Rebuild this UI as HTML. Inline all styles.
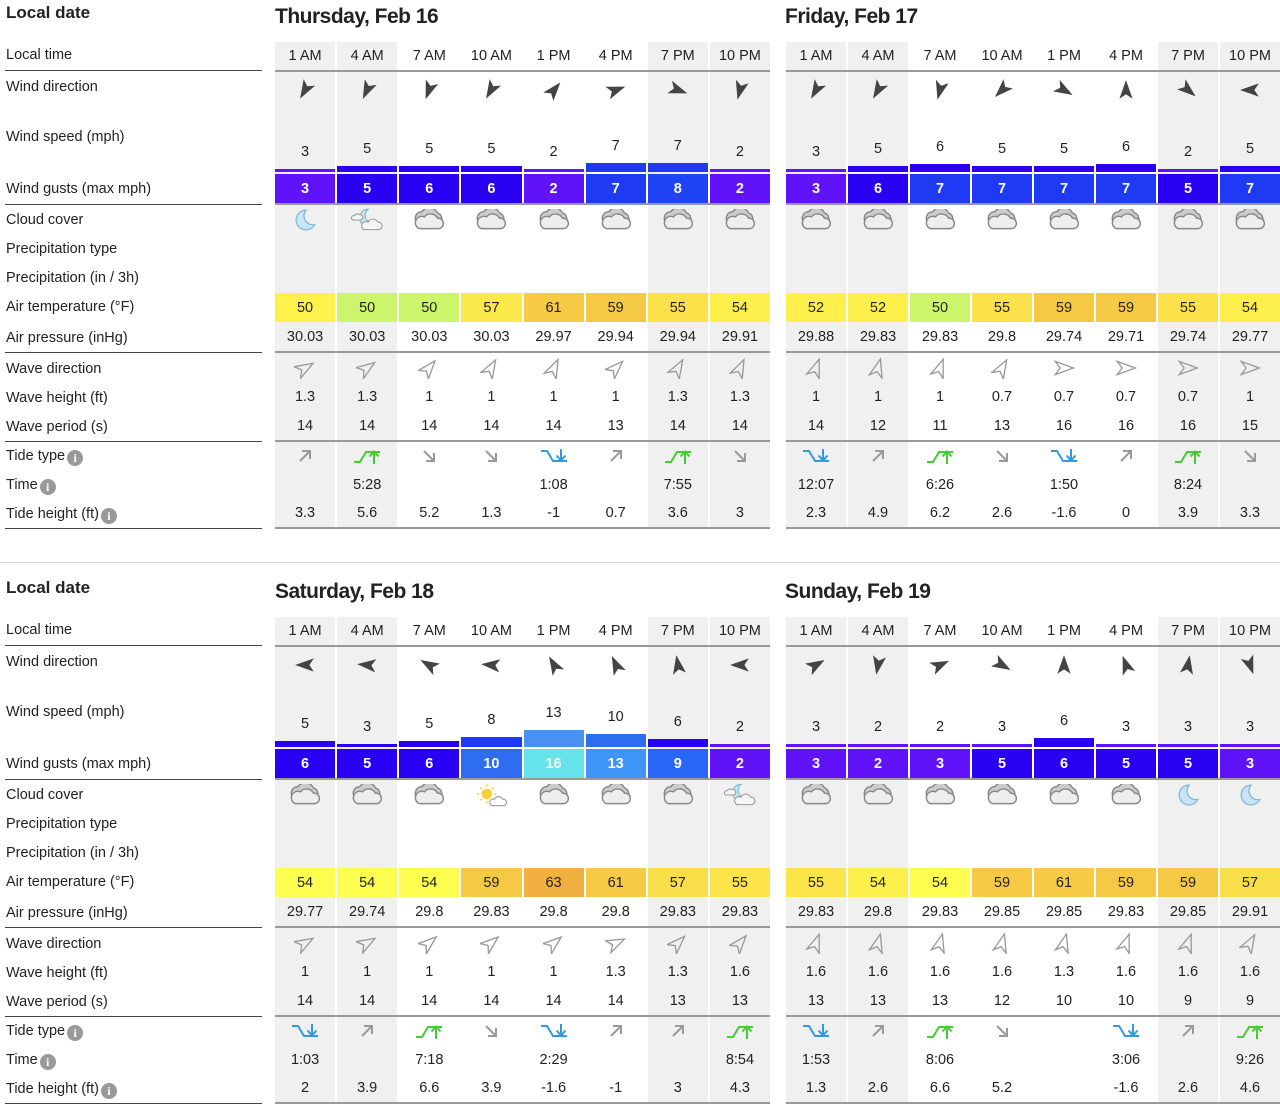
<!DOCTYPE html>
<html><head><meta charset="utf-8">
<style>
*{box-sizing:border-box}
body{margin:0;width:1280px;height:1113px;background:#fff;font-family:"Liberation Sans",Arial,sans-serif;color:#222;position:relative;overflow:hidden}
.blk{position:absolute;left:0;width:1280px;height:540px}
.ld{position:absolute;left:6px;top:3px;font-weight:bold;font-size:17px}
.tt{position:absolute;top:5px;font-weight:bold;font-size:21px;letter-spacing:-0.5px}
.lb{position:absolute;left:6px;font-size:14.5px;line-height:18px;white-space:nowrap}
.ln{position:absolute;left:5px;width:257px;height:1px;background:#444}
.g{position:absolute;top:42px}
.r{display:flex}
.r>span{flex:1;display:flex;align-items:center;justify-content:center;border-right:2px solid #fff;font-size:14.5px}
.r>span:last-child{border-right:none}
.r>span:nth-child(-n+2),.r>span:nth-child(n+7){background:#f0f0f0}
.hl{height:2px;background:#999}
.dir>span{align-items:flex-start;padding-top:7px}
.sp>span{flex-direction:column;justify-content:flex-end;align-items:stretch}
.sp em{font-style:normal;text-align:center;line-height:16px;margin-bottom:9px}
.sp i{display:block;margin-bottom:2px}
.gu>span{color:#fff;font-weight:bold;font-size:14.5px}
.inf{display:inline-block;width:16px;height:16px;border-radius:50%;background:#999;color:#fff;font:bold 12px "Liberation Serif",serif;text-align:center;line-height:16px;vertical-align:-2px;margin-left:2px}
</style></head><body>
<svg width="0" height="0" style="position:absolute">
<defs>
<symbol id="cl" viewBox="3 3 23 16"><path d="M5 13 A5 5 0 0 1 9 5 A7 7 0 0 1 21 6 A5 5 0 0 1 22 15 Z" fill="#ccc" stroke="#888" stroke-width="1.1"/><path d="M7 18H22A4 4 0 0 0 21 10A6 6 0 0 0 11 9A4.5 4.5 0 0 0 7 18Z" fill="#eee" stroke="#888" stroke-width="1.1"/></symbol>
<symbol id="mo" viewBox="1 1 20 20"><path d="M12 2A9 9 0 1 0 20 15A8 8 0 0 1 12 2Z" fill="#c9e4f4" stroke="#7fb6d6" stroke-width="1.1"/></symbol>
<symbol id="mc" viewBox="0 0 30 22"><path d="M16 1A8 8 0 1 0 23 13A7 7 0 0 1 16 1Z" fill="#c9e4f4" stroke="#7fb6d6" stroke-width="1"/><path d="M12 20H26A3.5 3.5 0 0 0 25 13A5 5 0 0 0 16 13A3.5 3.5 0 0 0 12 20Z" fill="#f6f6f6" stroke="#999"/><path d="M2 11H9A2.5 2.5 0 0 0 8 6A3.5 3.5 0 0 0 3 7A2 2 0 0 0 2 11Z" fill="#f6f6f6" stroke="#999"/></symbol>
<symbol id="sc" viewBox="0 0 30 22"><circle cx="11" cy="10" r="5" fill="#f7cf3c"/><g stroke="#f7cf3c" stroke-width="1.5"><path d="M11 1V3M11 17V19M2 10H4M18 10H20M5 4L6.5 5.5M15.5 14.5L17 16M17 4L15.5 5.5M5 16L6.5 14.5"/></g><path d="M16 21H27A3 3 0 0 0 26 15A4.5 4.5 0 0 0 18 15A3 3 0 0 0 16 21Z" fill="#fff" stroke="#999"/></symbol>
<symbol id="hi" viewBox="0 0 30 18"><g stroke="#44cc33" stroke-width="2" fill="none"><path d="M2 15H8L14 5H28"/><path d="M22 17V5M17.5 9.5L22 4.5L26.5 9.5"/></g></symbol>
<symbol id="lo" viewBox="0 0 30 18"><g stroke="#3399dd" stroke-width="2" fill="none"><path d="M2 4H8L14 14H28"/><path d="M22 2V13M17.5 8.5L22 13.5L26.5 8.5"/></g></symbol>
<symbol id="ua" viewBox="0 0 16 16"><g stroke="#999" stroke-width="2" fill="none"><path d="M3 13L13 3M5 3H13V11"/></g></symbol>
<symbol id="da" viewBox="0 0 16 16"><g stroke="#999" stroke-width="2" fill="none"><path d="M3 3L13 13M5 13H13V5"/></g></symbol>
<symbol id="wa" viewBox="-10 -10 20 20"><path d="M0-9L6 8L0 4L-6 8Z" fill="#444"/></symbol>
<symbol id="wv" viewBox="-10 -10 20 20"><path d="M0-8.5L6 8L0 3.5L-6 8Z" fill="none" stroke="#999" stroke-width="1.2"/></symbol>
</defs></svg>

<!-- ============ BLOCK 1 ============ -->
<div class="blk" style="top:0">
<div class="ld">Local date</div>
<div class="tt" style="left:275px">Thursday, Feb 16</div>
<div class="tt" style="left:785px">Friday, Feb 17</div>
<div class="lb" style="top:46px">Local time</div><div class="ln" style="top:70px"></div>
<div class="lb" style="top:78px">Wind direction</div>
<div class="lb" style="top:128px">Wind speed (mph)</div>
<div class="lb" style="top:180px">Wind gusts (max mph)</div><div class="ln" style="top:204px"></div>
<div class="lb" style="top:211px">Cloud cover</div>
<div class="lb" style="top:240px">Precipitation type</div>
<div class="lb" style="top:269px">Precipitation (in / 3h)</div>
<div class="lb" style="top:298px">Air temperature (°F)</div>
<div class="lb" style="top:329px">Air pressure (inHg)</div><div class="ln" style="top:352px"></div>
<div class="lb" style="top:360px">Wave direction</div>
<div class="lb" style="top:389px">Wave height (ft)</div>
<div class="lb" style="top:418px">Wave period (s)</div><div class="ln" style="top:441px"></div>
<div class="lb" style="top:447px">Tide type<span class="inf">i</span></div>
<div class="lb" style="top:476px">Time<span class="inf">i</span></div>
<div class="lb" style="top:505px">Tide height (ft)<span class="inf">i</span></div><div class="ln" style="top:528px"></div>

<div class="g" style="left:275px;width:495px">
<div class="r" style="height:28px"><span>1 AM</span><span>4 AM</span><span>7 AM</span><span>10 AM</span><span>1 PM</span><span>4 PM</span><span>7 PM</span><span>10 PM</span></div><div class="hl"></div>
<div class="r dir" style="height:36px">
<span><svg width="22" height="22"><use href="#wa" transform="rotate(210 11 11)"/></svg></span>
<span><svg width="22" height="22"><use href="#wa" transform="rotate(205 11 11)"/></svg></span>
<span><svg width="22" height="22"><use href="#wa" transform="rotate(200 11 11)"/></svg></span>
<span><svg width="22" height="22"><use href="#wa" transform="rotate(210 11 11)"/></svg></span>
<span><svg width="22" height="22"><use href="#wa" transform="rotate(40 11 11)"/></svg></span>
<span><svg width="22" height="22"><use href="#wa" transform="rotate(70 11 11)"/></svg></span>
<span><svg width="22" height="22"><use href="#wa" transform="rotate(110 11 11)"/></svg></span>
<span><svg width="22" height="22"><use href="#wa" transform="rotate(195 11 11)"/></svg></span></div>
<div class="r sp" style="height:66px">
<span><em>3</em><i style="height:3px;background:#6012f8"></i></span>
<span><em>5</em><i style="height:6px;background:#2a00f2"></i></span>
<span><em>5</em><i style="height:6px;background:#2a00f2"></i></span>
<span><em>5</em><i style="height:6px;background:#2a00f2"></i></span>
<span><em>2</em><i style="height:3px;background:#6012f8"></i></span>
<span><em>7</em><i style="height:9px;background:#1f3af5"></i></span>
<span><em>7</em><i style="height:9px;background:#1f3af5"></i></span>
<span><em>2</em><i style="height:3px;background:#6012f8"></i></span></div>
<div class="r gu" style="height:29px"><span style="background:#6012f8">3</span><span style="background:#2a00f2">5</span><span style="background:#2a00f2">6</span><span style="background:#2a00f2">6</span><span style="background:#6012f8">2</span><span style="background:#1f3af5">7</span><span style="background:#1f44f5">8</span><span style="background:#6012f8">2</span></div><div class="hl"></div>
<div class="r" style="height:29px">
<span><svg width="22" height="22"><use href="#mo"/></svg></span>
<span><svg width="32" height="24"><use href="#mc"/></svg></span>
<span><svg width="30" height="21"><use href="#cl"/></svg></span><span><svg width="30" height="21"><use href="#cl"/></svg></span><span><svg width="30" height="21"><use href="#cl"/></svg></span><span><svg width="30" height="21"><use href="#cl"/></svg></span><span><svg width="30" height="21"><use href="#cl"/></svg></span><span><svg width="30" height="21"><use href="#cl"/></svg></span></div>
<div class="r" style="height:29px"><span></span><span></span><span></span><span></span><span></span><span></span><span></span><span></span></div>
<div class="r" style="height:30px"><span></span><span></span><span></span><span></span><span></span><span></span><span></span><span></span></div>
<div class="r" style="height:29px"><span style="background:#fdf24c">50</span><span style="background:#ccf56c">50</span><span style="background:#ccf56c">50</span><span style="background:#fbe84a">57</span><span style="background:#f6ca44">61</span><span style="background:#f6c944">59</span><span style="background:#fce14a">55</span><span style="background:#fdf04c">54</span></div>
<div class="r" style="height:29px"><span>30.03</span><span>30.03</span><span>30.03</span><span>30.03</span><span>29.97</span><span>29.94</span><span>29.94</span><span>29.91</span></div><div class="hl"></div>
<div class="r" style="height:30px">
<span><svg width="22" height="22"><use href="#wv" transform="rotate(60 11 11)"/></svg></span>
<span><svg width="22" height="22"><use href="#wv" transform="rotate(55 11 11)"/></svg></span>
<span><svg width="22" height="22"><use href="#wv" transform="rotate(40 11 11)"/></svg></span>
<span><svg width="22" height="22"><use href="#wv" transform="rotate(30 11 11)"/></svg></span>
<span><svg width="22" height="22"><use href="#wv" transform="rotate(25 11 11)"/></svg></span>
<span><svg width="22" height="22"><use href="#wv" transform="rotate(45 11 11)"/></svg></span>
<span><svg width="22" height="22"><use href="#wv" transform="rotate(30 11 11)"/></svg></span>
<span><svg width="22" height="22"><use href="#wv" transform="rotate(25 11 11)"/></svg></span></div>
<div class="r" style="height:28px"><span>1.3</span><span>1.3</span><span>1</span><span>1</span><span>1</span><span>1</span><span>1.3</span><span>1.3</span></div>
<div class="r" style="height:29px"><span>14</span><span>14</span><span>14</span><span>14</span><span>14</span><span>13</span><span>14</span><span>14</span></div><div class="hl"></div>
<div class="r" style="height:28px"><span><svg width="16" height="16"><use href="#ua"/></svg></span><span><svg width="30" height="18"><use href="#hi"/></svg></span><span><svg width="16" height="16"><use href="#da"/></svg></span><span><svg width="16" height="16"><use href="#da"/></svg></span><span><svg width="30" height="18"><use href="#lo"/></svg></span><span><svg width="16" height="16"><use href="#ua"/></svg></span><span><svg width="30" height="18"><use href="#hi"/></svg></span><span><svg width="16" height="16"><use href="#da"/></svg></span></div>
<div class="r" style="height:29px"><span></span><span>5:28</span><span></span><span></span><span>1:08</span><span></span><span>7:55</span><span></span></div>
<div class="r" style="height:28px"><span>3.3</span><span>5.6</span><span>5.2</span><span>1.3</span><span>-1</span><span>0.7</span><span>3.6</span><span>3</span></div><div class="hl"></div>
</div>

<div class="g" style="left:786px;width:494px">
<div class="r" style="height:28px"><span>1 AM</span><span>4 AM</span><span>7 AM</span><span>10 AM</span><span>1 PM</span><span>4 PM</span><span>7 PM</span><span>10 PM</span></div><div class="hl"></div>
<div class="r dir" style="height:36px">
<span><svg width="22" height="22"><use href="#wa" transform="rotate(210 11 11)"/></svg></span>
<span><svg width="22" height="22"><use href="#wa" transform="rotate(210 11 11)"/></svg></span>
<span><svg width="22" height="22"><use href="#wa" transform="rotate(195 11 11)"/></svg></span>
<span><svg width="22" height="22"><use href="#wa" transform="rotate(225 11 11)"/></svg></span>
<span><svg width="22" height="22"><use href="#wa" transform="rotate(120 11 11)"/></svg></span>
<span><svg width="22" height="22"><use href="#wa" transform="rotate(0 11 11)"/></svg></span>
<span><svg width="22" height="22"><use href="#wa" transform="rotate(130 11 11)"/></svg></span>
<span><svg width="22" height="22"><use href="#wa" transform="rotate(270 11 11)"/></svg></span></div>
<div class="r sp" style="height:66px">
<span><em>3</em><i style="height:3px;background:#6012f8"></i></span>
<span><em>5</em><i style="height:6px;background:#2a00f2"></i></span>
<span><em>6</em><i style="height:8px;background:#2a00f2"></i></span>
<span><em>5</em><i style="height:6px;background:#2a00f2"></i></span>
<span><em>5</em><i style="height:6px;background:#2a00f2"></i></span>
<span><em>6</em><i style="height:8px;background:#2a00f2"></i></span>
<span><em>2</em><i style="height:3px;background:#6012f8"></i></span>
<span><em>5</em><i style="height:6px;background:#2a00f2"></i></span></div>
<div class="r gu" style="height:29px"><span style="background:#6012f8">3</span><span style="background:#2a00f2">6</span><span style="background:#1f3af5">7</span><span style="background:#1f3af5">7</span><span style="background:#1f3af5">7</span><span style="background:#1f3af5">7</span><span style="background:#2a00f2">5</span><span style="background:#1f3af5">7</span></div><div class="hl"></div>
<div class="r" style="height:29px"><span><svg width="30" height="21"><use href="#cl"/></svg></span><span><svg width="30" height="21"><use href="#cl"/></svg></span><span><svg width="30" height="21"><use href="#cl"/></svg></span><span><svg width="30" height="21"><use href="#cl"/></svg></span><span><svg width="30" height="21"><use href="#cl"/></svg></span><span><svg width="30" height="21"><use href="#cl"/></svg></span><span><svg width="30" height="21"><use href="#cl"/></svg></span><span><svg width="30" height="21"><use href="#cl"/></svg></span></div>
<div class="r" style="height:29px"><span></span><span></span><span></span><span></span><span></span><span></span><span></span><span></span></div>
<div class="r" style="height:30px"><span></span><span></span><span></span><span></span><span></span><span></span><span></span><span></span></div>
<div class="r" style="height:29px"><span style="background:#fdf04c">52</span><span style="background:#fdf04c">52</span><span style="background:#ccf56c">50</span><span style="background:#fce14a">55</span><span style="background:#f6c944">59</span><span style="background:#f6c944">59</span><span style="background:#fce14a">55</span><span style="background:#fdf04c">54</span></div>
<div class="r" style="height:29px"><span>29.88</span><span>29.83</span><span>29.83</span><span>29.8</span><span>29.74</span><span>29.71</span><span>29.74</span><span>29.77</span></div><div class="hl"></div>
<div class="r" style="height:30px">
<span><svg width="22" height="22"><use href="#wv" transform="rotate(20 11 11)"/></svg></span>
<span><svg width="22" height="22"><use href="#wv" transform="rotate(15 11 11)"/></svg></span>
<span><svg width="22" height="22"><use href="#wv" transform="rotate(20 11 11)"/></svg></span>
<span><svg width="22" height="22"><use href="#wv" transform="rotate(30 11 11)"/></svg></span>
<span><svg width="22" height="22"><use href="#wv" transform="rotate(90 11 11)"/></svg></span>
<span><svg width="22" height="22"><use href="#wv" transform="rotate(90 11 11)"/></svg></span>
<span><svg width="22" height="22"><use href="#wv" transform="rotate(90 11 11)"/></svg></span>
<span><svg width="22" height="22"><use href="#wv" transform="rotate(90 11 11)"/></svg></span></div>
<div class="r" style="height:28px"><span>1</span><span>1</span><span>1</span><span>0.7</span><span>0.7</span><span>0.7</span><span>0.7</span><span>1</span></div>
<div class="r" style="height:29px"><span>14</span><span>12</span><span>11</span><span>13</span><span>16</span><span>16</span><span>16</span><span>15</span></div><div class="hl"></div>
<div class="r" style="height:28px"><span><svg width="30" height="18"><use href="#lo"/></svg></span><span><svg width="16" height="16"><use href="#ua"/></svg></span><span><svg width="30" height="18"><use href="#hi"/></svg></span><span><svg width="16" height="16"><use href="#da"/></svg></span><span><svg width="30" height="18"><use href="#lo"/></svg></span><span><svg width="16" height="16"><use href="#ua"/></svg></span><span><svg width="30" height="18"><use href="#hi"/></svg></span><span><svg width="16" height="16"><use href="#da"/></svg></span></div>
<div class="r" style="height:29px"><span>12:07</span><span></span><span>6:26</span><span></span><span>1:50</span><span></span><span>8:24</span><span></span></div>
<div class="r" style="height:28px"><span>2.3</span><span>4.9</span><span>6.2</span><span>2.6</span><span>-1.6</span><span>0</span><span>3.9</span><span>3.3</span></div><div class="hl"></div>
</div>
</div>

<div style="position:absolute;left:0;top:562px;width:1280px;height:1px;background:#ddd"></div>

<!-- ============ BLOCK 2 ============ -->
<div class="blk" style="top:575px">
<div class="ld">Local date</div>
<div class="tt" style="left:275px">Saturday, Feb 18</div>
<div class="tt" style="left:785px">Sunday, Feb 19</div>
<div class="lb" style="top:46px">Local time</div><div class="ln" style="top:70px"></div>
<div class="lb" style="top:78px">Wind direction</div>
<div class="lb" style="top:128px">Wind speed (mph)</div>
<div class="lb" style="top:180px">Wind gusts (max mph)</div><div class="ln" style="top:204px"></div>
<div class="lb" style="top:211px">Cloud cover</div>
<div class="lb" style="top:240px">Precipitation type</div>
<div class="lb" style="top:269px">Precipitation (in / 3h)</div>
<div class="lb" style="top:298px">Air temperature (°F)</div>
<div class="lb" style="top:329px">Air pressure (inHg)</div><div class="ln" style="top:352px"></div>
<div class="lb" style="top:360px">Wave direction</div>
<div class="lb" style="top:389px">Wave height (ft)</div>
<div class="lb" style="top:418px">Wave period (s)</div><div class="ln" style="top:441px"></div>
<div class="lb" style="top:447px">Tide type<span class="inf">i</span></div>
<div class="lb" style="top:476px">Time<span class="inf">i</span></div>
<div class="lb" style="top:505px">Tide height (ft)<span class="inf">i</span></div><div class="ln" style="top:528px"></div>

<div class="g" style="left:275px;width:495px">
<div class="r" style="height:28px"><span>1 AM</span><span>4 AM</span><span>7 AM</span><span>10 AM</span><span>1 PM</span><span>4 PM</span><span>7 PM</span><span>10 PM</span></div><div class="hl"></div>
<div class="r dir" style="height:36px">
<span><svg width="22" height="22"><use href="#wa" transform="rotate(270 11 11)"/></svg></span>
<span><svg width="22" height="22"><use href="#wa" transform="rotate(275 11 11)"/></svg></span>
<span><svg width="22" height="22"><use href="#wa" transform="rotate(300 11 11)"/></svg></span>
<span><svg width="22" height="22"><use href="#wa" transform="rotate(275 11 11)"/></svg></span>
<span><svg width="22" height="22"><use href="#wa" transform="rotate(330 11 11)"/></svg></span>
<span><svg width="22" height="22"><use href="#wa" transform="rotate(335 11 11)"/></svg></span>
<span><svg width="22" height="22"><use href="#wa" transform="rotate(350 11 11)"/></svg></span>
<span><svg width="22" height="22"><use href="#wa" transform="rotate(270 11 11)"/></svg></span></div>
<div class="r sp" style="height:66px">
<span><em>5</em><i style="height:6px;background:#2a00f2"></i></span>
<span><em>3</em><i style="height:3px;background:#2a00f2"></i></span>
<span><em>5</em><i style="height:6px;background:#2a00f2"></i></span>
<span><em>8</em><i style="height:10px;background:#1f3af5"></i></span>
<span><em>13</em><i style="height:17px;background:#4a90f0"></i></span>
<span><em>10</em><i style="height:13px;background:#2e6cf0"></i></span>
<span><em>6</em><i style="height:8px;background:#2a00f2"></i></span>
<span><em>2</em><i style="height:3px;background:#6012f8"></i></span></div>
<div class="r gu" style="height:29px"><span style="background:#2a00f2">6</span><span style="background:#2a00f2">5</span><span style="background:#2a00f2">6</span><span style="background:#2e6cf0">10</span><span style="background:#66e3ea">16</span><span style="background:#3f95f5">13</span><span style="background:#2a66f5">9</span><span style="background:#6012f8">2</span></div><div class="hl"></div>
<div class="r" style="height:29px"><span><svg width="30" height="21"><use href="#cl"/></svg></span><span><svg width="30" height="21"><use href="#cl"/></svg></span><span><svg width="30" height="21"><use href="#cl"/></svg></span><span><svg width="32" height="24"><use href="#sc"/></svg></span><span><svg width="30" height="21"><use href="#cl"/></svg></span><span><svg width="30" height="21"><use href="#cl"/></svg></span><span><svg width="30" height="21"><use href="#cl"/></svg></span><span><svg width="32" height="24"><use href="#mc"/></svg></span></div>
<div class="r" style="height:29px"><span></span><span></span><span></span><span></span><span></span><span></span><span></span><span></span></div>
<div class="r" style="height:30px"><span></span><span></span><span></span><span></span><span></span><span></span><span></span><span></span></div>
<div class="r" style="height:29px"><span style="background:#fefe50">54</span><span style="background:#fefe50">54</span><span style="background:#fefe50">54</span><span style="background:#f6c944">59</span><span style="background:#f2b040">63</span><span style="background:#f6ca44">61</span><span style="background:#f8de48">57</span><span style="background:#fde44a">55</span></div>
<div class="r" style="height:29px"><span>29.77</span><span>29.74</span><span>29.8</span><span>29.83</span><span>29.8</span><span>29.8</span><span>29.83</span><span>29.83</span></div><div class="hl"></div>
<div class="r" style="height:30px">
<span><svg width="22" height="22"><use href="#wv" transform="rotate(60 11 11)"/></svg></span>
<span><svg width="22" height="22"><use href="#wv" transform="rotate(60 11 11)"/></svg></span>
<span><svg width="22" height="22"><use href="#wv" transform="rotate(50 11 11)"/></svg></span>
<span><svg width="22" height="22"><use href="#wv" transform="rotate(50 11 11)"/></svg></span>
<span><svg width="22" height="22"><use href="#wv" transform="rotate(50 11 11)"/></svg></span>
<span><svg width="22" height="22"><use href="#wv" transform="rotate(65 11 11)"/></svg></span>
<span><svg width="22" height="22"><use href="#wv" transform="rotate(45 11 11)"/></svg></span>
<span><svg width="22" height="22"><use href="#wv" transform="rotate(40 11 11)"/></svg></span></div>
<div class="r" style="height:28px"><span>1</span><span>1</span><span>1</span><span>1</span><span>1</span><span>1.3</span><span>1.3</span><span>1.6</span></div>
<div class="r" style="height:29px"><span>14</span><span>14</span><span>14</span><span>14</span><span>14</span><span>14</span><span>13</span><span>13</span></div><div class="hl"></div>
<div class="r" style="height:28px"><span><svg width="30" height="18"><use href="#lo"/></svg></span><span><svg width="16" height="16"><use href="#ua"/></svg></span><span><svg width="30" height="18"><use href="#hi"/></svg></span><span><svg width="16" height="16"><use href="#da"/></svg></span><span><svg width="30" height="18"><use href="#lo"/></svg></span><span><svg width="16" height="16"><use href="#ua"/></svg></span><span><svg width="16" height="16"><use href="#ua"/></svg></span><span><svg width="30" height="18"><use href="#hi"/></svg></span></div>
<div class="r" style="height:29px"><span>1:03</span><span></span><span>7:18</span><span></span><span>2:29</span><span></span><span></span><span>8:54</span></div>
<div class="r" style="height:28px"><span>2</span><span>3.9</span><span>6.6</span><span>3.9</span><span>-1.6</span><span>-1</span><span>3</span><span>4.3</span></div><div class="hl"></div>
</div>

<div class="g" style="left:786px;width:494px">
<div class="r" style="height:28px"><span>1 AM</span><span>4 AM</span><span>7 AM</span><span>10 AM</span><span>1 PM</span><span>4 PM</span><span>7 PM</span><span>10 PM</span></div><div class="hl"></div>
<div class="r dir" style="height:36px">
<span><svg width="22" height="22"><use href="#wa" transform="rotate(60 11 11)"/></svg></span>
<span><svg width="22" height="22"><use href="#wa" transform="rotate(190 11 11)"/></svg></span>
<span><svg width="22" height="22"><use href="#wa" transform="rotate(65 11 11)"/></svg></span>
<span><svg width="22" height="22"><use href="#wa" transform="rotate(120 11 11)"/></svg></span>
<span><svg width="22" height="22"><use href="#wa" transform="rotate(0 11 11)"/></svg></span>
<span><svg width="22" height="22"><use href="#wa" transform="rotate(340 11 11)"/></svg></span>
<span><svg width="22" height="22"><use href="#wa" transform="rotate(10 11 11)"/></svg></span>
<span><svg width="22" height="22"><use href="#wa" transform="rotate(160 11 11)"/></svg></span></div>
<div class="r sp" style="height:66px">
<span><em>3</em><i style="height:3px;background:#6012f8"></i></span>
<span><em>2</em><i style="height:3px;background:#6012f8"></i></span>
<span><em>2</em><i style="height:3px;background:#6012f8"></i></span>
<span><em>3</em><i style="height:3px;background:#6012f8"></i></span>
<span><em>6</em><i style="height:9px;background:#2a00f2"></i></span>
<span><em>3</em><i style="height:3px;background:#6012f8"></i></span>
<span><em>3</em><i style="height:3px;background:#6012f8"></i></span>
<span><em>3</em><i style="height:3px;background:#6012f8"></i></span></div>
<div class="r gu" style="height:29px"><span style="background:#6012f8">3</span><span style="background:#6012f8">2</span><span style="background:#6012f8">3</span><span style="background:#2a00f2">5</span><span style="background:#2a00f2">6</span><span style="background:#2a00f2">5</span><span style="background:#2a00f2">5</span><span style="background:#6012f8">3</span></div><div class="hl"></div>
<div class="r" style="height:29px"><span><svg width="30" height="21"><use href="#cl"/></svg></span><span><svg width="30" height="21"><use href="#cl"/></svg></span><span><svg width="30" height="21"><use href="#cl"/></svg></span><span><svg width="30" height="21"><use href="#cl"/></svg></span><span><svg width="30" height="21"><use href="#cl"/></svg></span><span><svg width="30" height="21"><use href="#cl"/></svg></span><span><svg width="22" height="22"><use href="#mo"/></svg></span><span><svg width="22" height="22"><use href="#mo"/></svg></span></div>
<div class="r" style="height:29px"><span></span><span></span><span></span><span></span><span></span><span></span><span></span><span></span></div>
<div class="r" style="height:30px"><span></span><span></span><span></span><span></span><span></span><span></span><span></span><span></span></div>
<div class="r" style="height:29px"><span style="background:#fde44a">55</span><span style="background:#fdf04c">54</span><span style="background:#fefe50">54</span><span style="background:#f6c944">59</span><span style="background:#f6ca44">61</span><span style="background:#f6c944">59</span><span style="background:#f6c944">59</span><span style="background:#f8de48">57</span></div>
<div class="r" style="height:29px"><span>29.83</span><span>29.8</span><span>29.83</span><span>29.85</span><span>29.85</span><span>29.83</span><span>29.85</span><span>29.91</span></div><div class="hl"></div>
<div class="r" style="height:30px">
<span><svg width="22" height="22"><use href="#wv" transform="rotate(20 11 11)"/></svg></span>
<span><svg width="22" height="22"><use href="#wv" transform="rotate(15 11 11)"/></svg></span>
<span><svg width="22" height="22"><use href="#wv" transform="rotate(15 11 11)"/></svg></span>
<span><svg width="22" height="22"><use href="#wv" transform="rotate(15 11 11)"/></svg></span>
<span><svg width="22" height="22"><use href="#wv" transform="rotate(15 11 11)"/></svg></span>
<span><svg width="22" height="22"><use href="#wv" transform="rotate(20 11 11)"/></svg></span>
<span><svg width="22" height="22"><use href="#wv" transform="rotate(20 11 11)"/></svg></span>
<span><svg width="22" height="22"><use href="#wv" transform="rotate(30 11 11)"/></svg></span></div>
<div class="r" style="height:28px"><span>1.6</span><span>1.6</span><span>1.6</span><span>1.6</span><span>1.3</span><span>1.6</span><span>1.6</span><span>1.6</span></div>
<div class="r" style="height:29px"><span>13</span><span>13</span><span>13</span><span>12</span><span>10</span><span>10</span><span>9</span><span>9</span></div><div class="hl"></div>
<div class="r" style="height:28px"><span><svg width="30" height="18"><use href="#lo"/></svg></span><span><svg width="16" height="16"><use href="#ua"/></svg></span><span><svg width="30" height="18"><use href="#hi"/></svg></span><span><svg width="16" height="16"><use href="#da"/></svg></span><span></span><span><svg width="30" height="18"><use href="#lo"/></svg></span><span><svg width="16" height="16"><use href="#ua"/></svg></span><span><svg width="30" height="18"><use href="#hi"/></svg></span></div>
<div class="r" style="height:29px"><span>1:53</span><span></span><span>8:06</span><span></span><span></span><span>3:06</span><span></span><span>9:26</span></div>
<div class="r" style="height:28px"><span>1.3</span><span>2.6</span><span>6.6</span><span>5.2</span><span></span><span>-1.6</span><span>2.6</span><span>4.6</span></div><div class="hl"></div>
</div>
</div>
</body></html>
